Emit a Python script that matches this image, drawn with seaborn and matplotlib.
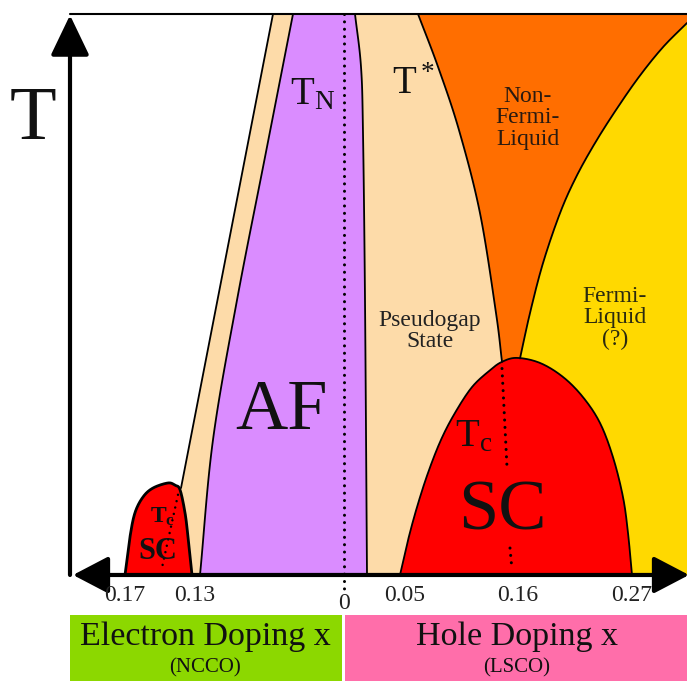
import matplotlib
matplotlib.use("Agg")
import matplotlib.pyplot as plt
from matplotlib.patches import Rectangle
import numpy as np
import pandas as pd
import seaborn as sns

# Schematic doping coordinate: electron doping to the left of 0, hole doping to the right.
# Temperature in arbitrary units (0 at the doping axis, 1 at the top frame).
tick_pos = [-0.219, -0.149, 0.0, 0.061, 0.174, 0.288]
tick_labels = ["0.17", "0.13", "0", "0.05", "0.16", "0.27"]

# antiferromagnetic region bounded by T_N
af_left_x = [-0.051, -0.079, -0.107, -0.131, -0.144]
af_left_T = [1.0, 0.745, 0.490, 0.241, 0.0]
af_right_x = [0.011, 0.017, 0.019, 0.021, 0.023]
af_right_T = [1.0, 0.906, 0.788, 0.490, 0.0]

# outer edge of the electron-side pseudogap band
e_pg_x = [-0.071, -0.163]
e_pg_T = [1.0, 0.155]

# electron-doped superconducting dome
e_sc_x = [-0.219, -0.214, -0.209, -0.201, -0.191, -0.176, -0.169, -0.164, -0.159, -0.156, -0.152]
e_sc_T = [0.0, 0.068, 0.111, 0.139, 0.155, 0.164, 0.160, 0.152, 0.111, 0.068, 0.0]

# hole-doped superconducting dome (T_c)
h_sc_x = [0.056, 0.064, 0.073, 0.084, 0.097, 0.111, 0.128, 0.146, 0.158, 0.173,
          0.196, 0.219, 0.239, 0.256, 0.269, 0.279, 0.284, 0.288]
h_sc_T = [0.0, 0.062, 0.121, 0.182, 0.241, 0.289, 0.335, 0.365, 0.380, 0.387,
          0.378, 0.353, 0.317, 0.271, 0.210, 0.139, 0.075, 0.0]

# pseudogap temperature T*
tstar_x = [0.074, 0.094, 0.115, 0.136, 0.152, 0.158]
tstar_T = [1.0, 0.906, 0.793, 0.645, 0.467, 0.380]

# crossover from non-Fermi liquid to Fermi liquid
fl_x = [0.176, 0.186, 0.199, 0.216, 0.232, 0.251, 0.272, 0.295, 0.319, 0.343]
fl_T = [0.386, 0.467, 0.556, 0.645, 0.709, 0.770, 0.829, 0.888, 0.941, 0.984]

X_MIN, X_AXIS, X_MAX = -0.344, -0.274, 0.343
T_MIN, T_MAX = -0.189, 1.025

C_AF = "#DA8CFF"
C_PG = "#FDDBA9"
C_NFL = "#FF6E00"
C_FL = "#FFD900"
C_SC = "#FF0000"
C_EL = "#8CD800"
C_HO = "#FF6EAA"


def smooth(xs, ys, n=24):
    """Catmull-Rom curve through the given boundary points."""
    P = np.column_stack([xs, ys]).astype(float)
    if len(P) < 3:
        return P
    P = np.vstack([2 * P[0] - P[1], P, 2 * P[-1] - P[-2]])
    t = np.linspace(0, 1, n, endpoint=False)[:, None]
    segs = []
    for i in range(1, len(P) - 2):
        p0, p1, p2, p3 = P[i - 1], P[i], P[i + 1], P[i + 2]
        segs.append(0.5 * (2 * p1 + (-p0 + p2) * t
                           + (2 * p0 - 5 * p1 + 4 * p2 - p3) * t ** 2
                           + (-p0 + 3 * p1 - 3 * p2 + p3) * t ** 3))
    segs.append(P[-2][None, :])
    return np.vstack(segs)


af_l = smooth(af_left_x, af_left_T)
af_r = smooth(af_right_x, af_right_T)
e_pg = smooth(e_pg_x, e_pg_T)
e_sc = smooth(e_sc_x, e_sc_T)
h_sc = smooth(h_sc_x, h_sc_T)
tstar = smooth(tstar_x, tstar_T)
fl = smooth(fl_x, fl_T)

sns.set_theme(style="white")
plt.rcParams["font.family"] = ["Liberation Serif", "DejaVu Serif"]
plt.rcParams["mathtext.fontset"] = "custom"
plt.rcParams["mathtext.rm"] = "Liberation Serif"
plt.rcParams["mathtext.it"] = "Liberation Serif:italic"
plt.rcParams["mathtext.bf"] = "Liberation Serif:bold"

fig = plt.figure(figsize=(6.87, 6.81), dpi=100)
ax = fig.add_axes([0, 0, 1, 1])

# --- filled phases ---
peak_x = h_sc_x[int(np.argmax(h_sc_T))]
# Fermi liquid
yl = np.vstack([fl, [[X_MAX, 0.0], [peak_x, 0.0]]])
ax.fill(yl[:, 0], yl[:, 1], color=C_FL, lw=0, zorder=1)
# non-Fermi liquid between T* and the Fermi-liquid crossover
nfl = np.vstack([tstar, [[peak_x, 0.37]], fl, [[X_MAX, 1.0]]])
ax.fill(nfl[:, 0], nfl[:, 1], color=C_NFL, lw=0, zorder=1)
# hole-side pseudogap
h_left = h_sc[h_sc[:, 0] <= tstar_x[-1]]
pg = np.vstack([af_r, h_left, tstar[::-1]])
ax.fill(pg[:, 0], pg[:, 1], color=C_PG, lw=0, zorder=1)
# electron-side pseudogap band
e_right = e_sc[e_sc[:, 0] >= e_pg_x[-1]]
epg = np.vstack([e_pg, e_right, af_l[::-1]])
ax.fill(epg[:, 0], epg[:, 1], color=C_PG, lw=0, zorder=1)
# antiferromagnet
af = np.vstack([af_l, af_r[::-1]])
ax.fill(af[:, 0], af[:, 1], color=C_AF, lw=0, zorder=1)
# superconducting domes
ax.fill(h_sc[:, 0], h_sc[:, 1], color=C_SC, lw=0, zorder=2)
ax.fill(e_sc[:, 0], e_sc[:, 1], color=C_SC, lw=0, zorder=2)

# --- phase boundaries ---
curves = {"af_left": af_l, "af_right": af_r, "e_pg": e_pg, "e_sc": e_sc,
          "h_sc": h_sc, "tstar": tstar, "fl": fl}
for name, c in curves.items():
    df = pd.DataFrame({"x": c[:, 0], "T": c[:, 1]})
    sns.lineplot(data=df, x="x", y="T", sort=False, estimator=None, color="black",
                 lw=2.0 if name == "e_sc" else 1.3, ax=ax, zorder=3)
ax.set_xlim(X_MIN, X_MAX)
ax.set_ylim(T_MIN, T_MAX)
ax.axis("off")

# dotted guide lines
dot = dict(color="black", lw=2.2, linestyle=(0, (0.01, 2.4)), dash_capstyle="round", zorder=4)
ax.plot([0.0, 0.0], [1.0, -0.027], clip_on=False, **dot)
ax.plot([0.158, 0.163], [0.368, 0.192], **dot)
ax.plot([0.166, 0.168], [0.048, 0.009], **dot)
ax.plot([-0.166, -0.182], [0.143, 0.013], lw=1.8, color="black",
        linestyle=(0, (0.01, 2.6)), dash_capstyle="round", zorder=4)

# frame and axes with arrow heads
ax.plot([X_AXIS, X_MAX], [1.0, 1.0], color="black", lw=1.5, zorder=5)
ax.annotate("", xy=(X_AXIS, 0.998), xytext=(X_AXIS, 0.0), annotation_clip=False,
            arrowprops=dict(arrowstyle="-|>,head_length=2.5,head_width=1.2", mutation_scale=10,
                            lw=3.0, color="black", shrinkA=0, shrinkB=0), zorder=6)
ax.annotate("", xy=(X_MAX + 0.002, 0.0), xytext=(X_AXIS + 0.003, 0.0), annotation_clip=False,
            arrowprops=dict(arrowstyle="<|-|>,head_length=2.2,head_width=1.15", mutation_scale=10,
                            lw=3.0, color="black", shrinkA=0, shrinkB=0), zorder=6)

# tick labels
for p, lab in zip(tick_pos, tick_labels):
    ax.text(p, -0.050 if lab == "0" else -0.036, lab, ha="center", va="center",
            fontsize=17, color="#222222", zorder=7)

# phase labels
ax.text(-0.311, 0.811, "T", ha="center", va="center", fontsize=55, color="#111111")
ax.text(-0.031, 0.856, r"$\mathrm{T_N}$", ha="center", va="center", fontsize=28, color="#111111")
ax.text(0.069, 0.875, r"$\mathrm{T^*}$", ha="center", va="center", fontsize=28, color="#111111")
ax.text(0.184, 0.815, "Non-\nFermi-\nLiquid", ha="center", va="center", fontsize=17,
        linespacing=1.05, color="#2a1a10")
ax.text(0.271, 0.458, "Fermi-\nLiquid\n(?)", ha="center", va="center", fontsize=17,
        linespacing=1.05, color="#2a2a10")
ax.text(0.086, 0.435, "Pseudogap\nState", ha="center", va="center", fontsize=17,
        linespacing=1.05, color="#222222")
ax.text(-0.063, 0.291, "AF", ha="center", va="center", fontsize=52, color="#111111")
ax.text(0.130, 0.246, r"$\mathrm{T_c}$", ha="center", va="center", fontsize=28, color="#111111")
ax.text(0.158, 0.112, "SC", ha="center", va="center", fontsize=52, color="#111111", zorder=5)
ax.text(-0.182, 0.104, r"$\mathbf{T_c}$", ha="center", va="center", fontsize=17,
        color="#111111", zorder=5)
ax.text(-0.186, 0.041, "SC", ha="center", va="center", fontsize=22, fontweight="bold",
        color="#111111", zorder=5)

# doping banners
ax.add_patch(Rectangle((X_AXIS, T_MIN), -0.002 - X_AXIS, 0.1177, color=C_EL, lw=0, zorder=1))
ax.add_patch(Rectangle((0.001, T_MIN), X_MAX - 0.001, 0.1177, color=C_HO, lw=0, zorder=1))
ax.text(-0.139, -0.1105, "Electron Doping x", ha="center", va="center", fontsize=24.5, color="#111111")
ax.text(-0.139, -0.166, "(NCCO)", ha="center", va="center", fontsize=15, color="#111111")
ax.text(0.173, -0.1105, "Hole Doping x", ha="center", va="center", fontsize=24.5, color="#111111")
ax.text(0.173, -0.166, "(LSCO)", ha="center", va="center", fontsize=15, color="#111111")

fig.savefig("out.png", dpi=100)
